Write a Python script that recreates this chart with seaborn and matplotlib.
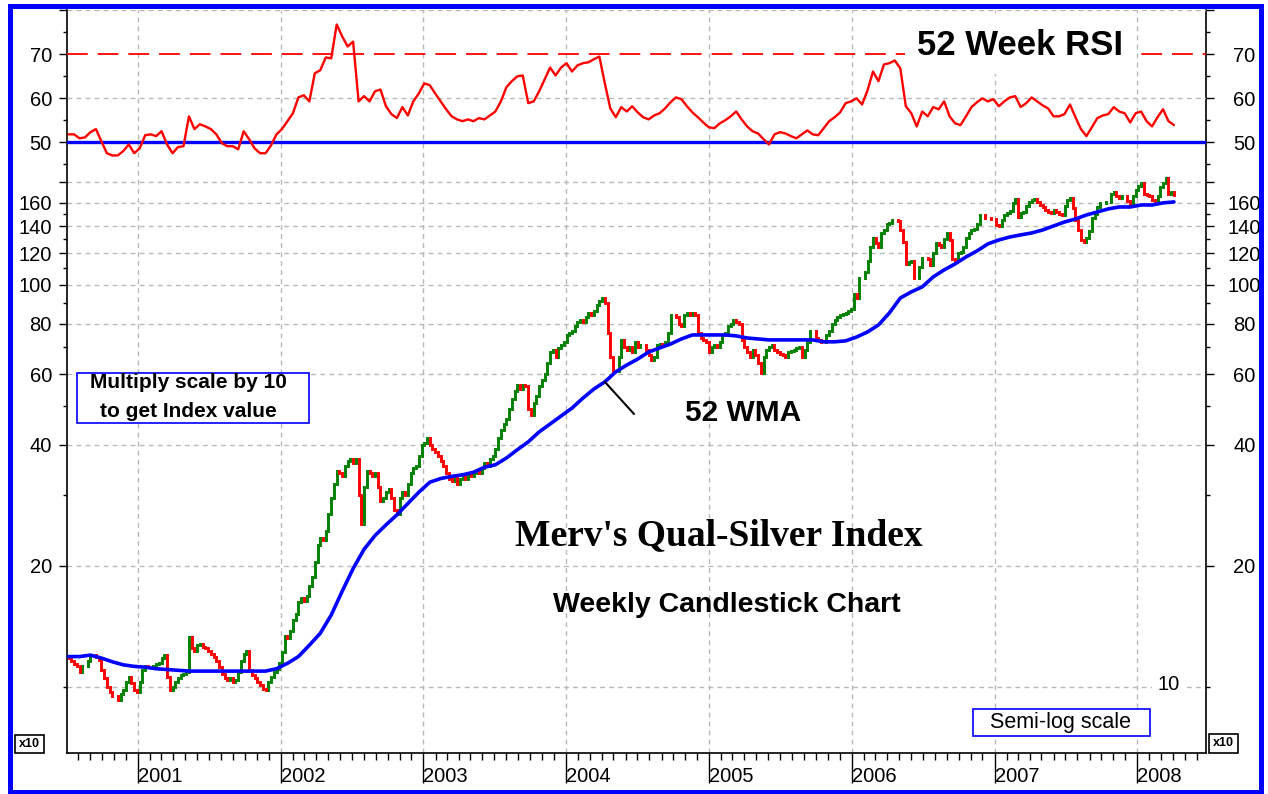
import numpy as np
import pandas as pd
import matplotlib
matplotlib.use("Agg")
import matplotlib.pyplot as plt
import matplotlib.dates as mdates
import matplotlib.ticker as mticker
from matplotlib.patches import Rectangle
import seaborn as sns

# ---------------- data ----------------
first_week = "2000-07-07"
first_open = 11.9

closes_2000 = [11.8, 11.6, 11.4, 11.3, 10.9, 11.3, 11.3, 11.6, 12.0, 12.0, 11.9, 11.7, 11.0, 10.5,
               10.0, 9.7, 9.5, 9.5, 9.3, 9.6, 9.8, 10.3, 10.6, 10.2, 9.8, 9.7, 10.3]
closes_2001 = [11.0, 11.3, 11.2, 11.2, 11.3, 11.4, 11.5, 11.8, 12.0, 10.6, 9.8, 10.0, 10.3, 10.5,
               10.7, 10.8, 10.9, 13.3, 12.5, 12.3, 12.7, 12.8, 12.6, 12.5, 12.3, 12.1,
               11.9, 11.6, 11.2, 10.8, 10.5, 10.4, 10.5, 10.3, 10.4, 10.9, 11.6, 12.1, 12.3,
               11.0, 10.7, 10.5, 10.3, 10.1, 9.9, 9.8, 10.3, 10.6, 10.9, 11.1, 11.5, 12.2]
closes_2002 = [13.4, 13.2, 13.8, 14.7, 15.2, 16.3, 16.6, 16.4, 16.8, 17.8, 18.8, 20.5, 22.5,
               23.5, 23.2, 24.5, 27.0, 29.5, 32.0, 34.5, 34.0, 33.5, 35.5, 36.5, 36.8, 36.0,
               37.0, 30.0, 25.5, 31.5, 34.5, 34.0, 33.5, 34.0, 31.5, 29.0, 29.5, 30.5, 31.0,
               29.5, 27.5, 27.0, 29.5, 30.5, 30.0, 32.0, 34.0, 35.0, 35.5, 37.5, 40.0, 40.5]
closes_2003 = [41.5, 40.0, 39.0, 38.5, 37.5, 36.5, 35.5, 34.0, 33.0, 32.5, 33.5, 32.0, 33.0,
               33.5, 33.0, 34.0, 33.5, 34.0, 34.5, 34.0, 35.0, 36.0, 35.5, 37.0, 37.5, 39.0,
               41.5, 43.5, 45.0, 46.5, 49.0, 52.0, 54.5, 56.5, 55.0, 56.5, 56.0, 49.0, 47.5,
               51.0, 53.0, 56.0, 58.0, 60.0, 64.0, 68.0, 69.0, 66.0, 69.5, 71.0, 72.0, 75.0]
closes_2004 = [76, 77, 79, 81, 82, 81, 83, 85, 84, 86, 89, 91, 93, 90, 76, 66, 61, 61, 66, 73,
               70, 69, 70, 68, 72, 70, 71, 71, 69, 67, 65, 66, 71, 71.5, 71, 72, 76, 84, 84, 83,
               80, 79, 84, 85, 84, 85, 84, 76, 74, 73, 72, 68]
closes_2005 = [70, 71, 70, 72, 75, 76, 79, 80, 82, 81, 80, 73, 70, 68, 66, 69, 67, 64, 60.5, 66,
               69, 70, 71, 69, 68, 67.5, 67, 66, 68, 68.5, 69, 69.5, 70, 66, 69, 72, 77, 77, 74,
               73, 72, 72, 75, 77, 80, 82, 83, 84, 84.5, 85, 86, 87]
closes_2006 = [95, 93, 104, 104, 108, 115, 124, 131, 127, 124, 135, 137, 142, 143, 145, 145, 144,
               137, 128, 113, 114, 115, 104, 104, 111, 117, 117, 116, 112, 120, 127, 126, 124,
               130, 135, 129, 116, 115, 120, 121, 124, 131, 135, 137, 138, 142, 149, 149, 147,
               147, 146, 146]
closes_2007 = [141, 140, 145, 149, 151, 153, 160, 164, 148, 151, 152, 157, 161, 163, 164, 161,
               158, 156, 154, 152, 151, 154, 152, 150, 149, 157, 163, 165, 155, 145, 137, 129,
               128, 131, 136, 147, 150, 156, 160, 160, 161, 161, 168, 170, 166, 165, 166, 166,
               162, 158, 166, 172]
closes_2008 = [176, 179, 168, 167, 166, 163, 160, 166, 175, 179, 185, 168, 170, 167]

# 52-week weighted moving average, one reading every 4 weeks
wma_52 = [11.9, 11.9, 12.0, 11.8, 11.55, 11.35, 11.25, 11.2, 11.1, 11.05, 11.0, 10.95, 10.95,
          10.95, 10.95, 10.95, 10.95, 10.95, 10.95, 11.1, 11.45, 11.9, 12.7, 13.6, 15.1, 17.3,
          19.7, 22.0, 23.8, 25.3, 26.8, 28.6, 30.5, 32.3, 33.0, 33.4, 33.7, 34.2, 35.2,
          35.7, 37.1, 38.9, 40.7, 43.1, 45.1, 47.2, 49.4, 52.3, 55.1, 57.4, 60.8, 63.2, 65.4,
          68.1, 69.7, 71.3, 73.4, 75.1, 75.1, 75.1, 75.1, 74.7, 73.8, 73.4, 73.0, 73.0, 73.0,
          73.0, 73.0, 72.2, 72.2, 72.6, 74.2, 76.4, 79.5, 85.2, 92.8, 96.1, 98.9, 104.7, 109.0,
          112.8, 117.4, 121.5, 126.5, 129.4, 131.6, 133.2, 134.7, 137.0, 140.2, 143.4, 145.9,
          149.3, 151.9, 154.6, 156.3, 156.3, 158.1, 158.1, 160.0, 160.9]

# 52-week RSI, one reading every 2 weeks
rsi_52 = [51.8, 51.8, 50.9, 51.1, 52.3, 53.0, 50.2, 47.5, 47.0, 47.0,
          48.0, 49.5, 47.5, 48.6, 51.6, 51.8, 51.4, 52.5, 49.5, 47.5,
          48.9, 49.1, 55.9, 53.0, 54.1, 53.6, 53.0, 51.8, 49.8, 49.1,
          49.1, 48.4, 52.5, 50.7, 48.6, 47.5, 47.5, 49.3, 51.8, 53.0,
          54.8, 56.6, 60.2, 60.7, 59.3, 65.7, 66.4, 69.3, 69.1, 76.8,
          74.1, 71.8, 72.9, 59.3, 60.5, 59.3, 61.6, 62.0, 58.2, 56.4,
          55.5, 58.0, 56.1, 59.3, 61.1, 63.4, 63.0, 61.1, 59.3, 57.5,
          55.9, 55.2, 54.8, 55.2, 54.8, 55.5, 55.2, 56.1, 57.0, 59.3,
          62.5, 63.9, 65.0, 65.2, 58.9, 59.3, 61.6, 64.3, 67.0, 65.2,
          67.0, 68.0, 66.1, 67.5, 68.0, 68.2, 68.9, 69.5, 63.4, 57.7,
          55.7, 58.0, 57.0, 58.2, 56.8, 55.7, 55.2, 56.1, 56.6, 57.7,
          59.1, 60.2, 59.8, 58.2, 56.8, 55.7, 54.5, 53.4, 53.2, 54.3,
          55.0, 55.9, 57.0, 55.2, 53.6, 52.5, 52.0, 50.7, 49.5, 51.8,
          52.3, 52.0, 51.4, 50.9, 51.8, 52.7, 51.8, 51.6, 53.2, 54.8,
          55.7, 56.8, 58.9, 59.3, 60.0, 58.6, 61.8, 66.1, 63.9, 67.7,
          68.0, 68.6, 66.8, 58.2, 56.6, 53.6, 57.0, 55.9, 58.0, 57.5,
          59.3, 55.9, 54.3, 53.9, 55.9, 58.0, 59.1, 60.0, 59.3, 59.8,
          58.2, 59.3, 60.2, 60.5, 58.0, 58.9, 60.2, 59.3, 58.4, 57.7,
          55.9, 55.9, 56.4, 58.6, 55.7, 53.0, 51.4, 53.4, 55.5, 56.1,
          56.4, 58.0, 57.0, 56.6, 54.5, 56.6, 57.0, 54.8, 53.6, 55.7,
          57.5, 54.8, 53.9]

price_major = [20, 40, 60, 80, 100, 120, 140, 160, 180]
price_major_labels = ["20", "40", "60", "80", "100", "120", "140", "160", ""]
price_minor = [10, 30, 50, 70, 90, 110, 130, 150]
price_grid = [10, 20, 40, 60, 80, 100, 120, 140, 160, 180]
rsi_major = [50, 60, 70, 80]
rsi_major_labels = ["50", "60", "70", ""]
rsi_minor = [45, 55, 65, 75]
rsi_grid = [60, 80]
rsi_overbought = 70
rsi_mid = 50
years = list(range(2001, 2009))
x_start, x_end = "2000-07-03", "2008-06-25"
price_lim = (6.85, 483.0)
rsi_lim = (-89.0, 80.1)

# ---------------- derived series ----------------
closes = np.array(closes_2000 + closes_2001 + closes_2002 + closes_2003 + closes_2004 +
                  closes_2005 + closes_2006 + closes_2007 + closes_2008, dtype=float)
n = len(closes)
dates = pd.date_range(first_week, periods=n, freq="7D")
opens = np.concatenate([[first_open], closes[:-1]])
wma_df = pd.DataFrame({"date": dates[::4][:len(wma_52)], "wma": wma_52})
rsi_df = pd.DataFrame({"date": dates[::2][:len(rsi_52)], "rsi": rsi_52})

# ---------------- style ----------------
sns.set_style("white")
plt.rcParams["font.family"] = ["Liberation Sans", "DejaVu Sans"]
for key in ("text.color", "axes.labelcolor", "xtick.color", "ytick.color"):
    plt.rcParams[key] = "black"

W, H = 1268, 794
L, R, T, B = 67, 1206, 10, 753
fig = plt.figure(figsize=(W / 100, H / 100), dpi=100)
fig.patch.set_facecolor("white")
rect = [L / W, 1 - B / H, (R - L) / W, (B - T) / H]


def fx(px):
    return (px - L) / (R - L)


def fy(py):
    return (B - py) / (B - T)


grid_kw = dict(color="#b9b9b9", lw=1.0, ls=(0, (3.5, 3)), zorder=0.5)
BLUE = "#0000ff"

# ---------------- price panel ----------------
ax = fig.add_axes(rect)
ax.set_yscale("log")
ax.set_xlim(pd.Timestamp(x_start), pd.Timestamp(x_end))
ax.set_ylim(price_lim)
for v in price_grid:
    ax.axhline(v, **grid_kw)
for y in years:
    ax.axvline(pd.Timestamp(f"{y}-01-01"), **grid_kw)

up = closes >= opens
for mask, col in ((up, "#008000"), (~up, "#ff0000")):
    lc = ax.vlines(dates[mask], opens[mask], closes[mask], colors=col, linewidth=2.1, zorder=2)
    lc.set_capstyle("projecting")

sns.lineplot(data=wma_df, x="date", y="wma", ax=ax, color=BLUE, linewidth=2.6, zorder=3)
ax.set_xlabel("")
ax.set_ylabel("")

ax.yaxis.set_major_locator(mticker.FixedLocator(price_major))
ax.yaxis.set_major_formatter(mticker.FixedFormatter(price_major_labels))
ax.yaxis.set_minor_locator(mticker.FixedLocator(price_minor))
ax.yaxis.set_minor_formatter(mticker.NullFormatter())
ax.tick_params(axis="y", which="major", direction="out", length=5.8, width=1, pad=5,
               labelsize=14.5, left=True, right=False, colors="black")
ax.tick_params(axis="y", which="minor", direction="out", length=2.9, width=1, left=True, right=False)

ax.xaxis.set_major_locator(mdates.YearLocator())
ax.xaxis.set_major_formatter(mdates.DateFormatter("%Y"))
ax.xaxis.set_minor_locator(mdates.MonthLocator(bymonth=range(2, 13)))
ax.tick_params(axis="x", which="major", direction="out", length=21.6, width=1, pad=-11.5,
               labelsize=14.5, bottom=True, colors="black")
ax.tick_params(axis="x", which="minor", direction="out", length=5.3, width=1, bottom=True)

for s in ("left", "right", "bottom"):
    ax.spines[s].set_color("black")
    ax.spines[s].set_linewidth(1.2)
    ax.spines[s].set_visible(True)
ax.spines["top"].set_visible(False)

# right-hand price labels (centred, as in the reference)
axr = ax.twinx()
axr.set_yscale("log")
axr.set_ylim(price_lim)
axr.yaxis.set_major_locator(mticker.FixedLocator(price_major))
axr.yaxis.set_major_formatter(mticker.FixedFormatter(price_major_labels))
axr.yaxis.set_minor_locator(mticker.FixedLocator(price_minor))
axr.yaxis.set_minor_formatter(mticker.NullFormatter())
axr.tick_params(axis="y", which="major", direction="out", length=5.8, width=1, pad=21.8,
                labelsize=14.5, colors="black")
axr.tick_params(axis="y", which="minor", direction="out", length=2.9, width=1)
for s in axr.spines.values():
    s.set_visible(False)

# ---------------- RSI panel (overlaid) ----------------
ax2 = fig.add_axes(rect, sharex=ax)
ax2.patch.set_visible(False)
ax2.set_ylim(rsi_lim)
for s in ax2.spines.values():
    s.set_visible(False)
for v in rsi_grid:
    ax2.axhline(v, **grid_kw)
ax2.axhline(rsi_overbought, color="#ff0000", lw=1.3, ls=(0, (11.5, 5.5)), zorder=1)
ax2.axhline(rsi_mid, color=BLUE, lw=2.4, zorder=2)
sns.lineplot(data=rsi_df, x="date", y="rsi", ax=ax2, color="#ff0000", linewidth=1.7, zorder=3)
ax2.set_xlabel("")
ax2.set_ylabel("")
ax2.tick_params(axis="x", which="both", bottom=False, labelbottom=False)
ax2.yaxis.set_major_locator(mticker.FixedLocator(rsi_major))
ax2.yaxis.set_major_formatter(mticker.FixedFormatter(rsi_major_labels))
ax2.yaxis.set_minor_locator(mticker.FixedLocator(rsi_minor))
ax2.yaxis.set_minor_formatter(mticker.NullFormatter())
ax2.tick_params(axis="y", which="major", direction="out", length=5.8, width=1, pad=5,
                labelsize=14.5, left=True, colors="black")
ax2.tick_params(axis="y", which="minor", direction="out", length=2.9, width=1, left=True)

ax2r = ax2.twinx()
ax2r.set_ylim(rsi_lim)
ax2r.yaxis.set_major_locator(mticker.FixedLocator(rsi_major))
ax2r.yaxis.set_major_formatter(mticker.FixedFormatter(rsi_major_labels))
ax2r.yaxis.set_minor_locator(mticker.FixedLocator(rsi_minor))
ax2r.yaxis.set_minor_formatter(mticker.NullFormatter())
ax2r.tick_params(axis="y", which="major", direction="out", length=5.8, width=1, pad=21.8,
                 labelsize=14.5, colors="black")
ax2r.tick_params(axis="y", which="minor", direction="out", length=2.9, width=1)
for s in ax2r.spines.values():
    s.set_visible(False)

ax.set_xlim(pd.Timestamp(x_start), pd.Timestamp(x_end))
plt.setp(ax.get_xticklabels(), ha="left")
plt.setp(axr.get_yticklabels(), ha="center")
plt.setp(ax2r.get_yticklabels(), ha="center")

# ---------------- annotations ----------------
ax2.text(fx(1020), fy(55), "52 Week RSI", transform=ax2.transAxes, ha="center", va="baseline",
         fontsize=25, fontweight="bold", zorder=6,
         bbox=dict(boxstyle="square,pad=0.35", fc="white", ec="none"))

ax.text(fx(719), fy(545), "Merv's Qual-Silver Index", transform=ax.transAxes, ha="center",
        va="baseline", fontsize=27, fontweight="bold", family=["Liberation Serif", "DejaVu Serif"],
        zorder=6)
ax.text(fx(727), fy(612), "Weekly Candlestick Chart", transform=ax.transAxes, ha="center",
        va="baseline", fontsize=20.5, fontweight="bold", zorder=6)

ax.annotate("", xy=(dates[196], wma_52[49]), xycoords="data",
            xytext=(fx(634), fy(414)), textcoords="axes fraction",
            arrowprops=dict(arrowstyle="-", color="black", lw=1.5, shrinkA=0, shrinkB=0), zorder=6)
ax.text(fx(685), fy(421), "52 WMA", transform=ax.transAxes, ha="left", va="baseline",
        fontsize=21.5, fontweight="bold", zorder=6)

ax.add_patch(Rectangle((fx(77), fy(423)), fx(309) - fx(77), fy(373) - fy(423),
                       transform=ax.transAxes, fc="white", ec=BLUE, lw=1.2, zorder=5))
ax.text(fx(188), fy(388), "Multiply scale by 10", transform=ax.transAxes, ha="center",
        va="baseline", fontsize=15, fontweight="bold", zorder=6)
ax.text(fx(188), fy(416.5), "to get Index value", transform=ax.transAxes, ha="center",
        va="baseline", fontsize=15, fontweight="bold", zorder=6)

ax.add_patch(Rectangle((fx(973), fy(736)), fx(1150) - fx(973), fy(709) - fy(736),
                       transform=ax.transAxes, fc="white", ec=BLUE, lw=1.2, zorder=5))
ax.text(fx(1061), fy(728), "Semi-log scale", transform=ax.transAxes, ha="center",
        va="baseline", fontsize=15.5, zorder=6)

ax.text(fx(1169), fy(690), "10", transform=ax.transAxes, ha="center", va="baseline",
        fontsize=14.5, zorder=6, bbox=dict(boxstyle="square,pad=0.3", fc="white", ec="none"))

for bx0, by0, bx1, by1 in ((15, 735, 44, 753), (1209, 734, 1238, 753)):
    fig.add_artist(Rectangle((bx0 / W, 1 - by1 / H), (bx1 - bx0) / W, (by1 - by0) / H,
                             transform=fig.transFigure, fc="white", ec="black", lw=1.2))
    fig.text((bx0 + bx1) / 2 / W, 1 - (by0 + by1) / 2 / H, "x10", ha="center", va="center",
             fontsize=9, fontweight="bold")

fig.add_artist(Rectangle((9.5 / W, 1 - 792 / H), (1260.5 - 9.5) / W, (792 - 5.5) / H,
                         transform=fig.transFigure, fill=False, ec=BLUE, lw=3.6, zorder=10))

fig.savefig("out.png", dpi=100, facecolor="white")
